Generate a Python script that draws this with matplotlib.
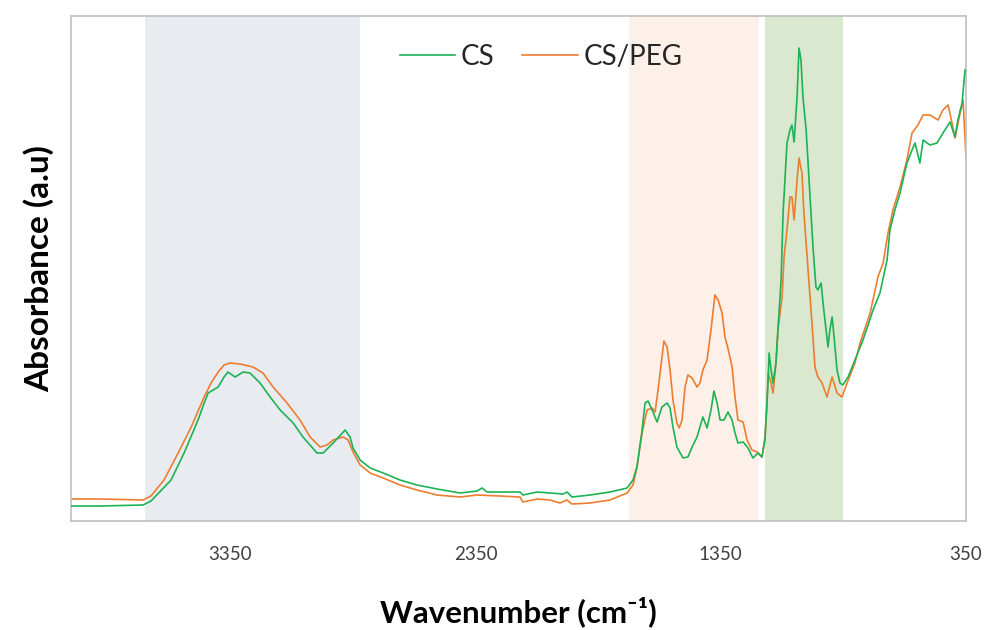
import matplotlib
matplotlib.use("Agg")
import matplotlib.pyplot as plt

# FTIR spectra (wavenumber in cm-1, absorbance in a.u.)
cs_wn = [4000, 3882, 3706, 3674, 3592, 3539, 3482, 3457, 3441, 3400, 3376, 3360,
         3331, 3298, 3270, 3229, 3188, 3147, 3094, 3054, 2997, 2972, 2931, 2882,
         2862, 2850, 2821, 2780, 2727, 2658, 2589, 2507, 2413, 2344, 2324, 2303,
         2250, 2169, 2157, 2099, 2046, 1993, 1977, 1957, 1883, 1802, 1732, 1708,
         1692, 1671, 1659, 1647, 1630, 1610, 1590, 1569, 1557, 1545, 1529, 1504,
         1484, 1467, 1447, 1435, 1423, 1406, 1390, 1378, 1365, 1353, 1337, 1321,
         1304, 1292, 1280, 1259, 1239, 1219, 1198, 1182, 1170, 1157, 1153, 1145,
         1137, 1125, 1117, 1104, 1096, 1080, 1068, 1060, 1051, 1039, 1031, 1023,
         1015, 1002, 994, 982, 974, 962, 954, 941, 933, 921, 913, 905, 896, 888,
         876, 864, 852, 831, 803, 770, 729, 701, 672, 660, 640, 619, 591, 570,
         558, 538, 525, 497, 468, 444, 415, 395, 383, 366, 354]
cs_abs = [0.030, 0.030, 0.032, 0.040, 0.082, 0.136, 0.202, 0.236, 0.256, 0.268,
          0.288, 0.298, 0.288, 0.298, 0.296, 0.276, 0.248, 0.222, 0.196, 0.168,
          0.136, 0.136, 0.156, 0.182, 0.168, 0.146, 0.122, 0.106, 0.096, 0.082,
          0.072, 0.064, 0.056, 0.060, 0.066, 0.058, 0.058, 0.058, 0.052, 0.058,
          0.056, 0.054, 0.058, 0.048, 0.052, 0.058, 0.066, 0.082, 0.108, 0.182,
          0.236, 0.240, 0.222, 0.198, 0.228, 0.236, 0.226, 0.188, 0.148, 0.126,
          0.128, 0.148, 0.168, 0.188, 0.208, 0.186, 0.222, 0.260, 0.236, 0.202,
          0.202, 0.218, 0.202, 0.176, 0.156, 0.158, 0.146, 0.126, 0.136, 0.128,
          0.162, 0.282, 0.336, 0.302, 0.276, 0.316, 0.382, 0.482, 0.616, 0.756,
          0.782, 0.792, 0.758, 0.848, 0.946, 0.922, 0.848, 0.782, 0.716, 0.616,
          0.548, 0.468, 0.462, 0.476, 0.436, 0.382, 0.348, 0.382, 0.408, 0.368,
          0.302, 0.276, 0.272, 0.288, 0.322, 0.362, 0.422, 0.456, 0.522, 0.582,
          0.622, 0.656, 0.716, 0.742, 0.756, 0.716, 0.762, 0.752, 0.756, 0.776,
          0.798, 0.768, 0.802, 0.836, 0.902]

peg_wn = [4000, 3882, 3706, 3674, 3621, 3563, 3510, 3457, 3429, 3400, 3376, 3351,
          3311, 3258, 3217, 3176, 3119, 3066, 3025, 2984, 2956, 2931, 2891, 2870,
          2850, 2821, 2780, 2727, 2658, 2589, 2507, 2413, 2344, 2250, 2169, 2157,
          2099, 2046, 2006, 1977, 1957, 1883, 1802, 1732, 1708, 1692, 1671, 1651,
          1630, 1618, 1606, 1590, 1582, 1569, 1557, 1545, 1529, 1520, 1508, 1496,
          1484, 1467, 1447, 1435, 1423, 1406, 1390, 1374, 1361, 1345, 1333, 1321,
          1304, 1292, 1280, 1259, 1243, 1223, 1202, 1182, 1170, 1162, 1157, 1145,
          1137, 1125, 1117, 1100, 1092, 1080, 1068, 1060, 1051, 1039, 1031, 1019,
          1011, 998, 986, 978, 966, 954, 937, 917, 896, 876, 856, 835, 803, 782,
          741, 709, 688, 668, 648, 619, 591, 570, 546, 525, 497, 464, 444, 423,
          407, 395, 374, 362, 350]
peg_abs = [0.044, 0.044, 0.042, 0.050, 0.082, 0.136, 0.188, 0.248, 0.276, 0.298,
           0.312, 0.316, 0.314, 0.308, 0.296, 0.268, 0.236, 0.202, 0.168, 0.148,
           0.152, 0.162, 0.168, 0.162, 0.138, 0.112, 0.096, 0.086, 0.072, 0.062,
           0.052, 0.048, 0.052, 0.050, 0.048, 0.038, 0.044, 0.042, 0.036, 0.042,
           0.034, 0.036, 0.042, 0.056, 0.072, 0.108, 0.176, 0.222, 0.226, 0.218,
           0.262, 0.328, 0.360, 0.348, 0.302, 0.242, 0.196, 0.186, 0.202, 0.268,
           0.292, 0.286, 0.268, 0.276, 0.302, 0.322, 0.382, 0.452, 0.442, 0.416,
           0.368, 0.346, 0.308, 0.248, 0.202, 0.198, 0.162, 0.142, 0.138, 0.128,
           0.168, 0.228, 0.296, 0.276, 0.256, 0.316, 0.382, 0.448, 0.528, 0.582,
           0.648, 0.648, 0.602, 0.682, 0.726, 0.696, 0.616, 0.528, 0.448, 0.396,
           0.308, 0.288, 0.276, 0.248, 0.288, 0.256, 0.248, 0.276, 0.316, 0.356,
           0.416, 0.488, 0.516, 0.576, 0.622, 0.668, 0.722, 0.776, 0.792, 0.812,
           0.812, 0.802, 0.822, 0.832, 0.796, 0.766, 0.816, 0.842, 0.728]

# highlighted bands (cm-1)
bands = [(3700, 2820), (1725, 1195), (1170, 850)]
band_colors = ["#E8EBF0", "#FCF0E8", "#D9E8CE"]

xticks = [3350, 2350, 1350, 350]


def main():
    plt.rcParams['font.family'] = ['Lato', 'DejaVu Sans']

    fig = plt.figure(figsize=(9.84, 6.3), dpi=100)
    ax = fig.add_axes([0.0722, 0.173, 0.9095, 0.8016])

    for (a, b), c in zip(bands, band_colors):
        ax.axvspan(a, b, color=c, lw=0, zorder=0)

    ax.plot(cs_wn, cs_abs, color="#1DB256", lw=1.2, label="CS", zorder=3)
    ax.plot(peg_wn, peg_abs, color="#ED7D31", lw=1.2, label="CS/PEG", zorder=2)

    ax.set_xlim(4000, 350)
    ax.set_ylim(0, 1.01)
    ax.set_xticks(xticks)
    ax.set_yticks([])
    ax.tick_params(axis='x', length=0, pad=18, labelsize=13.5, labelcolor="#404040")
    for s in ax.spines.values():
        s.set_color("#BFBFBF")
        s.set_linewidth(1.2)

    ax.set_xlabel("Wavenumber (cm\u207b\u00b9)", fontsize=22.5, fontweight='bold', labelpad=24)
    ax.set_ylabel("Absorbance (a.u)", fontsize=24, fontweight='bold', labelpad=12)

    ax.legend(loc='upper center', bbox_to_anchor=(0.525, 0.995), ncol=2, frameon=False,
              fontsize=20, handlelength=2.0, handletextpad=0.2, columnspacing=1.0,
              labelcolor="#262626")

    fig.savefig("out.png", dpi=100)


if __name__ == "__main__":
    main()
